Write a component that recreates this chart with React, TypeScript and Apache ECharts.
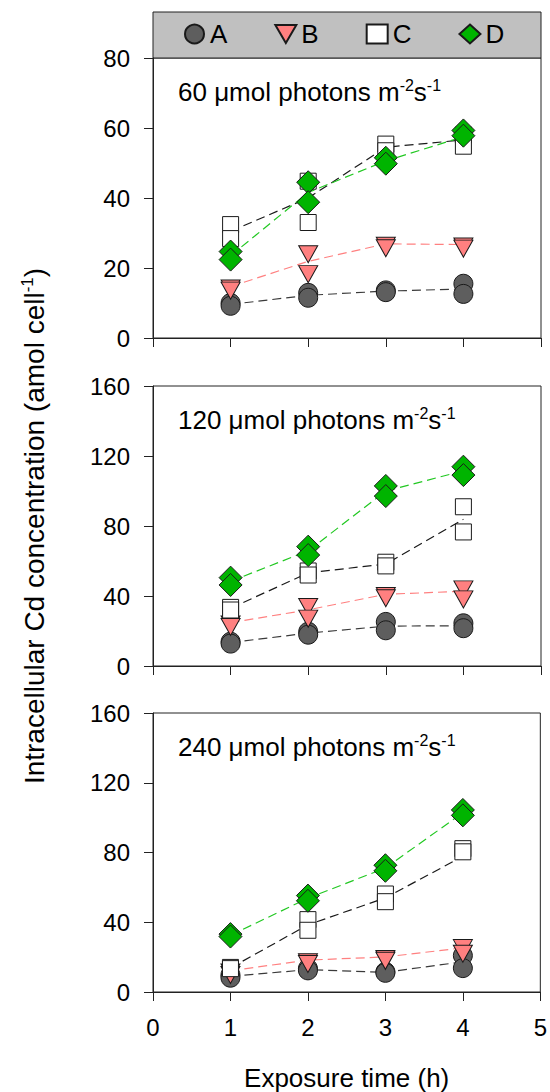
import React, { useEffect, useRef } from 'react';
import * as echarts from 'echarts';

// ---------- data ----------
const hours = [1, 2, 3, 4];
const groupNames = ['A', 'B', 'C', 'D'];
const xTicks = [0, 1, 2, 3, 4, 5];
const panelLight = ['60', '120', '240'];
const yMaxes = [80, 160, 160];
const yIntervals = [20, 40, 40];

// 60 µmol photons m-2 s-1
const A60_r1 = [10.0, 12.9, 13.6, 15.5];
const A60_r2 = [9.2, 11.5, 13.1, 12.6];
const A60_line = [9.6, 12.2, 13.4, 14.0];
const B60_r1 = [15.0, 24.8, 27.2, 27.0];
const B60_r2 = [14.4, 19.1, 26.5, 26.4];
const B60_line = [14.7, 21.9, 26.9, 26.7];
const C60_r1 = [32.4, 44.8, 55.4, 58.0];
const C60_r2 = [28.4, 33.0, 53.5, 54.8];
const C60_line = [30.5, 40.0, 54.5, 56.6];
const D60_r1 = [24.7, 44.5, 51.5, 59.3];
const D60_r2 = [22.4, 38.8, 49.8, 57.8];
const D60_line = [23.5, 41.6, 50.6, 57.5];

// 120 µmol photons m-2 s-1
const A120_r1 = [13.9, 19.6, 25.2, 24.4];
const A120_r2 = [12.8, 17.9, 20.4, 21.6];
const A120_line = [13.4, 18.8, 22.8, 23.0];
const B120_r1 = [25.5, 35.4, 41.7, 45.5];
const B120_r2 = [24.0, 28.8, 40.4, 39.8];
const B120_line = [24.8, 32.1, 41.0, 42.7];
const C120_r1 = [33.5, 54.3, 59.3, 91.0];
const C120_r2 = [32.0, 52.0, 57.2, 76.6];
const C120_line = [33.0, 53.2, 58.3, 83.8];
const D120_r1 = [50.5, 68.2, 102.9, 113.9];
const D120_r2 = [46.3, 63.4, 97.1, 109.1];
const D120_line = [48.4, 65.8, 100.0, 111.5];

// 240 µmol photons m-2 s-1
const A240_r1 = [9.8, 13.5, 11.6, 20.9];
const A240_r2 = [8.2, 12.4, 11.0, 13.7];
const A240_line = [9.0, 12.8, 11.3, 17.3];
const B240_r1 = [12.9, 18.8, 20.6, 26.9];
const B240_r2 = [11.5, 17.8, 19.6, 23.7];
const B240_line = [12.2, 18.3, 20.1, 25.3];
const C240_r1 = [14.1, 41.5, 56.2, 82.2];
const C240_r2 = [13.4, 35.4, 51.8, 80.4];
const C240_line = [13.8, 38.5, 54.0, 77.8];
const D240_r1 = [33.2, 55.3, 72.7, 104.4];
const D240_r2 = [31.8, 52.3, 69.5, 101.3];
const D240_line = [32.5, 53.8, 71.1, 102.8];

const panels = [
  { A: [A60_r1, A60_r2, A60_line], B: [B60_r1, B60_r2, B60_line], C: [C60_r1, C60_r2, C60_line], D: [D60_r1, D60_r2, D60_line] },
  { A: [A120_r1, A120_r2, A120_line], B: [B120_r1, B120_r2, B120_line], C: [C120_r1, C120_r2, C120_line], D: [D120_r1, D120_r2, D120_line] },
  { A: [A240_r1, A240_r2, A240_line], B: [B240_r1, B240_r2, B240_line], C: [C240_r1, C240_r2, C240_line], D: [D240_r1, D240_r2, D240_line] },
];

// ---------- styles ----------
const FONT = "'Liberation Sans', Arial, sans-serif";
const TRI_DOWN = 'path://M0,0L20,0L10,17.32Z';
const styles: Record<string, any> = {
  A: { symbol: 'circle', size: 19, offset: [0, 0], fill: '#5e5e5e', line: '#3a3a3a' },
  B: { symbol: TRI_DOWN, size: [19, 17], offset: [0, 3], fill: '#ff8080', line: '#ff8080' },
  C: { symbol: 'rect', size: 16, offset: [0, 0], fill: '#ffffff', line: '#1a1a1a' },
  D: { symbol: 'diamond', size: 23, offset: [0, 0], fill: '#00b400', line: '#22c822' },
};
const gridTops = [58, 386, 713];
const gridH = 280;
const gridLeft = 153;
const gridW = 388;

function buildOption() {
  const grid = gridTops.map((t) => ({
    left: gridLeft, top: t, width: gridW, height: gridH,
    show: true, borderColor: '#222', borderWidth: 1, backgroundColor: 'transparent',
  }));

  const xAxis = gridTops.map((_, i) => ({
    type: 'value', gridIndex: i, min: xTicks[0], max: xTicks[xTicks.length - 1], interval: 1,
    axisLine: { show: true, onZero: false, lineStyle: { color: '#222', width: 1 } },
    axisTick: { show: true, length: 9, lineStyle: { color: '#222', width: 1 } },
    axisLabel: { show: i === 2, margin: 23, fontSize: 24, color: '#000', fontFamily: FONT },
    splitLine: { show: false },
    name: i === 2 ? 'Exposure time (h)' : '',
    nameLocation: 'middle',
    nameGap: 73,
    nameTextStyle: { fontSize: 26, color: '#000', fontFamily: FONT },
  }));

  const yAxis = gridTops.map((_, i) => ({
    type: 'value', gridIndex: i, min: 0, max: yMaxes[i], interval: yIntervals[i],
    axisLine: { show: true, onZero: false, lineStyle: { color: '#222', width: 1 } },
    axisTick: { show: true, length: 9, lineStyle: { color: '#222', width: 1 } },
    axisLabel: { margin: 23, fontSize: 24, color: '#000', fontFamily: FONT },
    splitLine: { show: false },
    name: i === 1 ? '{t|Intracellular Cd concentration (amol cell}{s|-1}{t|)}' : '',
    nameLocation: 'middle',
    nameRotate: 90,
    nameGap: 104,
    nameTextStyle: {
      color: '#000', fontFamily: FONT,
      rich: {
        t: { fontSize: 28, lineHeight: 30, color: '#000', fontFamily: FONT },
        s: { fontSize: 17, lineHeight: 26, verticalAlign: 'top', color: '#000', fontFamily: FONT },
      },
    },
  }));

  const series: any[] = [];
  // scatter (replicates) first so the legend picks their symbols
  panels.forEach((p: any, pi) => {
    groupNames.forEach((g) => {
      const st = styles[g];
      const [r1, r2] = p[g];
      const data: number[][] = [];
      hours.forEach((h, k) => { data.push([h, r1[k]]); data.push([h, r2[k]]); });
      series.push({
        type: 'scatter', name: g, xAxisIndex: pi, yAxisIndex: pi, z: 3,
        data, symbol: st.symbol, symbolSize: st.size, symbolOffset: st.offset,
        itemStyle: { color: st.fill, borderColor: '#1a1a1a', borderWidth: 1, opacity: 1 },
        emphasis: { disabled: true },
      });
    });
  });
  panels.forEach((p: any, pi) => {
    groupNames.forEach((g) => {
      const st = styles[g];
      const line = p[g][2];
      series.push({
        type: 'line', name: g, xAxisIndex: pi, yAxisIndex: pi, z: 2,
        data: hours.map((h, k) => [h, line[k]]),
        showSymbol: false, symbol: 'none',
        lineStyle: { color: st.line, width: 1.2, type: [9, 5] },
        itemStyle: { color: st.fill },
        emphasis: { disabled: true },
      });
    });
  });

  const title = panelLight.map((v, i) => ({
    text: `{t|${v} \u03bcmol photons m}{s|-2}{t|s}{s|-1}`,
    left: 178,
    top: gridTops[i] + 19,
    padding: 0,
    textStyle: {
      fontWeight: 'normal',
      rich: {
        t: { fontSize: 26, lineHeight: 30, fontWeight: 'normal', color: '#000', fontFamily: FONT },
        s: { fontSize: 16, lineHeight: 24, fontWeight: 'normal', verticalAlign: 'top', color: '#000', fontFamily: FONT },
      },
    },
  }));

  return {
    animation: false,
    backgroundColor: '#ffffff',
    grid, xAxis, yAxis, series, title,
    legend: {
      z: 10,
      left: 184, top: 21, padding: 0,
      itemGap: 47, itemWidth: 21, itemHeight: 19,
      selectedMode: false,
      textStyle: { fontSize: 26, color: '#000', fontFamily: FONT },
      data: [
        { name: 'A', icon: 'circle' },
        { name: 'B', icon: TRI_DOWN },
        { name: 'C', icon: 'rect' },
        { name: 'D', icon: 'diamond' },
      ],
    },
    graphic: [
      {
        type: 'rect', z: 0,
        shape: { x: gridLeft, y: 12, width: gridW, height: gridTops[0] - 12 },
        style: { fill: '#c0c0c0', stroke: '#222', lineWidth: 1 },
      },
    ],
  };
}

export default function App() {
  const ref = useRef<HTMLDivElement>(null);
  useEffect(() => {
    if (!ref.current) return;
    const chart = echarts.init(ref.current, undefined, { renderer: 'svg' });
    chart.setOption(buildOption() as any);
    return () => chart.dispose();
  }, []);
  return (
    <div
      ref={ref}
      style={{ position: 'absolute', left: 0, top: 0, width: 550, height: 1092, background: '#fff' }}
    />
  );
}
